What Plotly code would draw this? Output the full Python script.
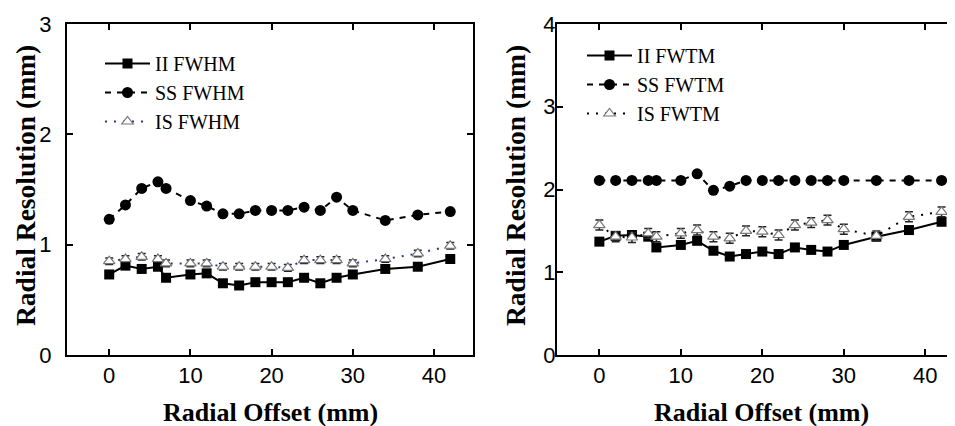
import plotly.graph_objects as go

# ---- data ----
offsets = [0, 2, 4, 6, 7, 10, 12, 14, 16, 18, 20, 22, 24, 26, 28, 30, 34, 38, 42]

ii_fwhm = [0.73, 0.81, 0.78, 0.80, 0.70, 0.73, 0.74, 0.65, 0.63, 0.66, 0.66, 0.66, 0.70, 0.65, 0.70, 0.73, 0.78, 0.80, 0.87]
ss_fwhm = [1.23, 1.36, 1.51, 1.57, 1.51, 1.40, 1.35, 1.28, 1.28, 1.31, 1.31, 1.31, 1.34, 1.31, 1.43, 1.31, 1.22, 1.27, 1.30]
is_fwhm = [0.85, 0.87, 0.89, 0.87, 0.83, 0.83, 0.83, 0.80, 0.80, 0.80, 0.80, 0.79, 0.86, 0.86, 0.86, 0.83, 0.87, 0.92, 0.99]
is_fwhm_err = [0.03] * 19

ii_fwtm = [1.37, 1.44, 1.45, 1.43, 1.30, 1.33, 1.38, 1.26, 1.19, 1.22, 1.25, 1.22, 1.30, 1.27, 1.25, 1.33, 1.43, 1.51, 1.61]
ss_fwtm = [2.11, 2.11, 2.11, 2.11, 2.11, 2.11, 2.19, 1.99, 2.04, 2.11, 2.11, 2.11, 2.11, 2.11, 2.11, 2.11, 2.11, 2.11, 2.11]
is_fwtm = [1.57, 1.43, 1.42, 1.47, 1.43, 1.47, 1.51, 1.43, 1.41, 1.50, 1.49, 1.45, 1.57, 1.60, 1.63, 1.52, 1.44, 1.67, 1.73]
is_fwtm_err = [0.06] * 19

x_ticks = [0, 10, 20, 30, 40]
y1_ticks = [0, 1, 2, 3]
y2_ticks = [0, 1, 2, 3, 4]

W, H = 955, 426
OFF = 8  # page body margin offsets the figure
SERIF = "Liberation Serif, Times New Roman, serif"
SANS = "Liberation Sans, Arial, sans-serif"

fig = go.Figure()

def add_set(xa, ya, leg, ii, ss, is_, is_err, names, dotcolor):
    fig.add_trace(go.Scatter(x=offsets, y=ii, name=names[0], xaxis=xa, yaxis=ya, legend=leg,
                             mode="lines+markers", line=dict(color="black", width=2),
                             marker=dict(symbol="square", size=10, color="black")))
    fig.add_trace(go.Scatter(x=offsets, y=ss, name=names[1], xaxis=xa, yaxis=ya, legend=leg,
                             mode="lines+markers", line=dict(color="black", width=2, dash="6px,6px"),
                             marker=dict(symbol="circle", size=11, color="black")))
    fig.add_trace(go.Scatter(x=offsets, y=is_, name=names[2], xaxis=xa, yaxis=ya, legend=leg,
                             mode="lines+markers", line=dict(color=dotcolor, width=2, dash="2px,7px"),
                             marker=dict(symbol="triangle-up", size=10, color="white",
                                         line=dict(width=1.2, color="#777777")),
                             error_y=dict(type="data", array=is_err, visible=True,
                                          color="#222222", thickness=1.5, width=4)))

add_set("x", "y", "legend", ii_fwhm, ss_fwhm, is_fwhm, is_fwhm_err,
        ["II FWHM", "SS FWHM", "IS FWHM"], "#2b3a8c")
add_set("x2", "y2", "legend2", ii_fwtm, ss_fwtm, is_fwtm, is_fwtm_err,
        ["II FWTM", "SS FWTM", "IS FWTM"], "black")

def px_x(p):
    return (p - OFF) / W

def px_y(p):
    return 1 - (p - OFF) / H

axis_common = dict(showgrid=False, zeroline=False, showline=True, linecolor="black", linewidth=2,
                   ticks="inside", ticklen=6, tickwidth=1.5, tickcolor="black",
                   tickfont=dict(family=SANS, size=22, color="black"))

fig.update_layout(
    width=W, height=H,
    margin=dict(l=0, r=0, t=0, b=0, autoexpand=False),
    paper_bgcolor="white", plot_bgcolor="white",
    showlegend=True,
    xaxis=dict(domain=[px_x(67), px_x(473)], range=[-5.2, 44.8], tickvals=x_ticks,
               mirror="ticks", anchor="y", ticklabelstandoff=0, **axis_common),
    yaxis=dict(domain=[px_y(355), px_y(24)], range=[0, 3], tickvals=y1_ticks,
               mirror="ticks", anchor="x", ticklabelstandoff=9, **axis_common),
    xaxis2=dict(domain=[px_x(557), px_x(955)], range=[-5.2, 43.65], tickvals=x_ticks,
                mirror="ticks", anchor="y2", ticklabelstandoff=0, **axis_common),
    yaxis2=dict(domain=[px_y(355), px_y(24)], range=[0, 4], tickvals=y2_ticks,
                mirror=False, anchor="x2", ticklabelstandoff=-5, **axis_common),
    legend=dict(x=px_x(100), y=px_y(44), xanchor="left", yanchor="top",
                bgcolor="rgba(0,0,0,0)", font=dict(family=SERIF, size=20, color="black"),
                itemwidth=45, tracegroupgap=0),
    legend2=dict(x=px_x(582), y=px_y(36), xanchor="left", yanchor="top",
                 bgcolor="rgba(0,0,0,0)", font=dict(family=SERIF, size=20, color="black"),
                 itemwidth=45, tracegroupgap=0),
)

fig.add_annotation(text="<b>Radial Offset (mm)</b>", x=px_x(270), y=px_y(412), xref="paper", yref="paper",
                   showarrow=False, font=dict(family=SERIF, size=26, color="black"),
                   xanchor="center", yanchor="middle")
fig.add_annotation(text="<b>Radial Offset (mm)</b>", x=px_x(761), y=px_y(412), xref="paper", yref="paper",
                   showarrow=False, font=dict(family=SERIF, size=26, color="black"),
                   xanchor="center", yanchor="middle")
fig.add_annotation(text="<b>Radial Resolution (mm)</b>", x=px_x(25), y=px_y(186), xref="paper", yref="paper",
                   showarrow=False, font=dict(family=SERIF, size=27.5, color="black"),
                   textangle=-90, xanchor="center", yanchor="middle")
fig.add_annotation(text="<b>Radial Resolution (mm)</b>", x=px_x(515), y=px_y(186), xref="paper", yref="paper",
                   showarrow=False, font=dict(family=SERIF, size=27.5, color="black"),
                   textangle=-90, xanchor="center", yanchor="middle")

fig.write_html("out.html")
